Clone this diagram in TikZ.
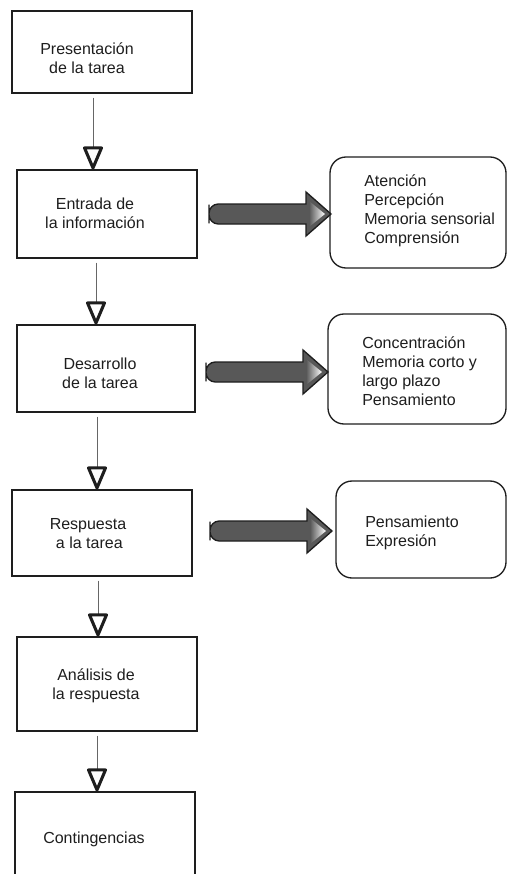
\documentclass[tikz,border=0pt]{standalone}
\usepackage{fontspec}
\setmainfont{Liberation Sans}
\usetikzlibrary{arrows.meta,calc}
\definecolor{arrowgray}{RGB}{88,88,88}
\definecolor{inkc}{RGB}{30,30,30}
\begin{document}
\begin{tikzpicture}[x=0.75pt,y=-0.75pt,
  box/.style={draw=inkc, line width=0.9pt, rectangle, inner sep=0pt, minimum width=135pt},
  txt/.style={font=\fontsize{12}{14.25}\selectfont, text=inkc, align=center, inner sep=0pt},
  rtxt/.style={font=\fontsize{12}{14.25}\selectfont, text=inkc, align=left, inner sep=0pt, anchor=west},
  rbox/.style={draw=inkc, line width=1pt, rounded corners=12pt, rectangle, inner sep=0pt},
  flow/.style={draw=black!60, line width=0.6pt, shorten <=3pt, shorten >=16pt},
  vtip/.pic={
    \draw[inkc, line width=2.3pt, line join=round, fill=white]
      (-8.5,-21.5) -- (8.5,-21.5) -- (0,-1.5) -- cycle;
  },
  fatarrow/.pic={
    \filldraw[fill=arrowgray, draw=inkc, line width=1pt]
      (0,0) [rounded corners=7pt] -- (0,-10) -- (50,-10) [sharp corners]
      -- (97,-10) -- (97,-22) -- (122,0) -- (97,22) -- (97,10) -- (50,10)
      [rounded corners=7pt] -- (0,10) -- cycle;
    \shade[left color=arrowgray, right color=white]
      (100,-13) -- (116,0) -- (100,13) -- cycle;
  }]
\useasboundingbox (0,0) rectangle (508,874);
\clip (0,0) rectangle (508,874);
\fill[white] (0,0) rectangle (508,874);

% left column boxes
\node[box, minimum height=61.5pt] (b1) at (102,52) {};
\node[box, minimum height=66pt] (b2) at (107,214) {};
\node[box, minimum height=65.25pt, minimum width=133.5pt] (b3) at (106,368.5) {};
\node[box, minimum height=64.5pt] (b4) at (102,533) {};
\node[box, minimum height=70.5pt] (b5) at (107,684) {};
\node[box, minimum height=66pt] (b6) at (105,836) {};

\node[txt] (t1) at (87,58) {Presentación\\ de la tarea};
\node[txt] (t2) at (95,213) {Entrada de\\ la información};
\node[txt] (t3) at (100,373) {Desarrollo\\ de la tarea};
\node[txt] (t4) at (88,534) {Respuesta\\ \,a la tarea};
\node[txt] (t5) at (96,686) {Análisis de\\ la respuesta};
\node[txt] (t6) at (94,839) {Contingencias};

% connectors
\coordinate (c1) at (93,0);
\coordinate (c2) at (96,0);
\coordinate (c3) at (97,0);
\coordinate (c4) at (98,0);
\coordinate (c5) at (97,0);
\draw[flow] (b1.south -| c1) -- (b2.north -| c1);
\draw[flow] (b2.south -| c2) -- (b3.north -| c2);
\draw[flow] (b3.south -| c3) -- (b4.north -| c3);
\draw[flow] (b4.south -| c4) -- (b5.north -| c4);
\draw[flow] (b5.south -| c5) -- (b6.north -| c5);
\pic at (b2.north -| c1) {vtip};
\pic at (b3.north -| c2) {vtip};
\pic at (b4.north -| c3) {vtip};
\pic at (b5.north -| c4) {vtip};
\pic at (b6.north -| c5) {vtip};

% right column rounded boxes
\node[rbox, minimum width=132pt, minimum height=83.25pt] (r1) at (418,212.5) {};
\node[rbox, minimum width=133.5pt, minimum height=82.5pt] (r2) at (417,369) {};
\node[rbox, minimum width=127.5pt, minimum height=72.75pt] (r3) at (421,529.5) {};

\node[rtxt] (s1) at (364,211) {Atención\\Percepción\\Memoria sensorial\\Comprensión};
\node[rtxt] (s2) at (362,371) {Concentración\\Memoria corto y\\largo plazo\\Pensamiento};
\node[rtxt] (s3) at (365,533) {Pensamiento\\Expresión};

% big arrows
\pic at (209,214) {fatarrow};
\pic at (206,372) {fatarrow};
\pic at (210,531) {fatarrow};
\end{tikzpicture}
\end{document}
